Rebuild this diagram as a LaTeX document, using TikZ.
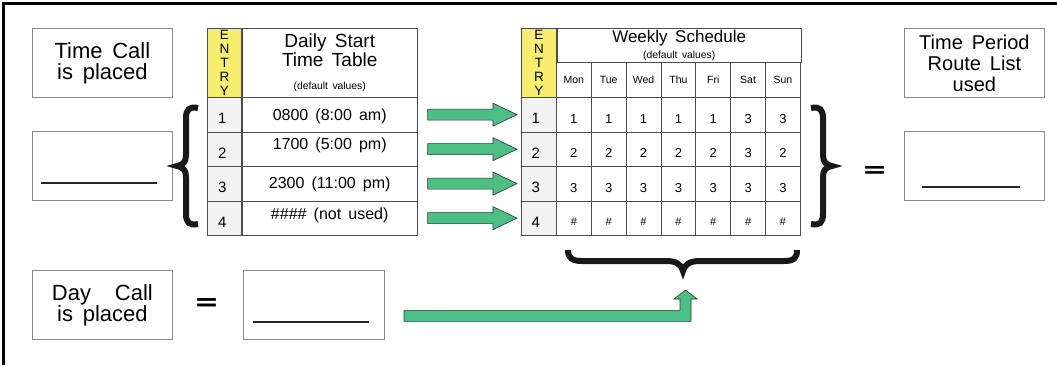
\documentclass[tikz,border=0pt]{standalone}
\usepackage{fontspec}
\usepackage{graphicx}
\setmainfont{Liberation Sans}[WordSpace=1.6]
\newfontfamily\eqfont{DejaVu Sans}
\usetikzlibrary{positioning, calc}

\definecolor{entryyellow}{HTML}{F8EE6E}
\definecolor{entrygray}{HTML}{F2F2F2}
\definecolor{flowgreen}{HTML}{4CBF84}
\definecolor{boxgray}{HTML}{8A8A8A}

\tikzset{
  infobox/.style={draw=boxgray, line width=0.8pt, minimum width=140pt, minimum height=69pt, inner sep=0pt, anchor=north west, align=center, font=\fontsize{22}{21}\selectfont},
  cell/.style={draw=black!70, line width=0.8pt, inner sep=0pt, anchor=north west},
  rowcell/.style={cell, minimum height=34.5pt},
  entrycell/.style={rowcell, fill=entrygray},
  headentry/.style={cell, fill=entryyellow, minimum height=69pt, align=center, font=\fontsize{13.5}{14}\selectfont},
  numtext/.style={inner sep=0pt, font=\fontsize{15}{15}\selectfont},
  celltext/.style={inner sep=0pt, font=\fontsize{13}{13}\selectfont},
  timetext/.style={inner sep=0pt, font=\fontsize{16}{16}\selectfont},
  titletext/.style={inner sep=0pt, align=center, font=\fontsize{19}{19}\selectfont},
  smalltext/.style={inner sep=0pt, font=\fontsize{10.3}{10.3}\selectfont},
  daycell/.style={cell, minimum width=34.857pt, minimum height=35pt, font=\fontsize{10.5}{10.5}\selectfont},
  blankline/.style={line width=2pt, black!85},
  curly/.style={line width=6pt, black!90},
  flowarrow/.style={fill=flowgreen, draw=black!80, line width=0.6pt, line join=miter},
  equalsign/.style={inner sep=0pt, font=\eqfont\bfseries}
}

\begin{document}
\begin{tikzpicture}[x=1pt, y=-1pt]
  \useasboundingbox (0,0) rectangle (1057,365);
  \draw[line width=3pt] (3,365) -- (3,3) -- (1057,3);

  % left column
  \node[infobox] (timecall) at (32,28) {Time Call\\is placed};
  \node[infobox] (timeval) at (32,131) {};
  \draw[blankline] ($(timeval.south west)+(9,-18)$) -- ($(timeval.south east)+(-16,-18)$);
  \draw[curly] (198,108) .. controls (189,106) and (186,110) .. (186,118) -- (186,155) .. controls (186,162) and (183,165) .. (177,166) .. controls (183,167) and (186,170) .. (186,177) -- (186,214) .. controls (186,222) and (189,226) .. (198,224);

  % daily start time table
  \node[headentry, minimum width=34pt] (dentry) at (207,28) {E\\N\\T\\R\\Y};
  \node[cell, minimum width=175pt, minimum height=69pt] (dhead) at (dentry.north east) {};
  \node[titletext, below=6pt of dhead.north] (dtitle) {Daily Start\\Time Table};
  \node[smalltext] (ddefault) at ($(dhead.north)+(0,59)$) {(default values)};
  \foreach \i/\t/\dy in {1/0800 (8:00 am)/2, 2/1700 (5:00 pm)/-4, 3/2300 (11:00 pm)/1, 4/\#\#\#\# (not used)/-3} {
    \node[entrycell, minimum width=34pt] (de\i) at (207,{97+34.5*(\i-1)}) {};
    \node[rowcell, minimum width=175pt] (dt\i) at (de\i.north east) {};
    \node[numtext] (den\i) at ($(de\i.center)+(-2,4)$) {\i};
    \node[timetext] (dtt\i) at ($(dt\i.center)+(0,\dy)$) {\t};
  }

  % weekly schedule
  \node[headentry, minimum width=35pt] (wentry) at (521,28) {E\\N\\T\\R\\Y};
  \node[cell, minimum width=244pt, minimum height=34pt] (whead) at (wentry.north east) {};
  \node[titletext, font=\fontsize{17}{17}\selectfont, below=2pt of whead.north] (wtitle) {Weekly Schedule};
  \node[smalltext] (wdefault) at ($(whead.north)+(0,28)$) {(default values)};
  \foreach \d [count=\k] in {Mon,Tue,Wed,Thu,Fri,Sat,Sun}
    \node[daycell] (day\k) at ({556+34.857*(\k-1)},62) {\d};
  \foreach \i in {1,...,4} {
    \node[entrycell, minimum width=35pt] (we\i) at (521,{97+34.5*(\i-1)}) {};
    \node[numtext] (wen\i) at ($(we\i.center)+(-3,4)$) {\i};
  }
  \foreach \v [count=\n from 0] in {1,1,1,1,1,3,3, 2,2,2,2,2,3,2, 3,3,3,3,3,3,3, \#,\#,\#,\#,\#,\#,\#} {
    \pgfmathtruncatemacro\r{int(\n/7)+1}
    \pgfmathtruncatemacro\c{mod(\n,7)+1}
    \pgfmathtruncatemacro\fs{\r==4 ? 11 : 13}
    \node[rowcell, minimum width=34.857pt] (w\r-\c) at ({556+34.857*(\c-1)},{97+34.5*(\r-1)}) {};
    \node[celltext, font=\fontsize{\fs}{\fs}\selectfont] (wv\r-\c) at ($(w\r-\c.center)+(0,4)$) {\v};
  }

  % arrows from daily table to weekly schedule
  \foreach \i in {1,...,4}
    \path[flowarrow] ($(dt\i.east)+(10,-5.5)$) -- ($(we\i.west)+(-28,-5.5)$) -- ($(we\i.west)+(-28,-11.5)$) -- ($(we\i.west)+(-4,0)$) -- ($(we\i.west)+(-28,11.5)$) -- ($(we\i.west)+(-28,5.5)$) -- ($(dt\i.east)+(10,5.5)$) -- cycle;

  % right column
  \draw[curly] (811,108) .. controls (820,106) and (823,110) .. (823,118) -- (823,155) .. controls (823,162) and (826,165) .. (832,166) .. controls (826,167) and (823,170) .. (823,177) -- (823,214) .. controls (823,222) and (820,226) .. (811,224);
  \node[equalsign] (routeeq) at (874.5,171.5) {\resizebox{25pt}{11pt}{=}};
  \node[infobox, font=\fontsize{20}{21}\selectfont] (routelist) at (904,28) {Time Period\\Route List\\used};
  \node[infobox] (routeval) at (904,131) {};
  \draw[blankline] ($(routeval.south west)+(18,-14)$) -- ($(routeval.south east)+(-25,-14)$);

  % day of the call
  \draw[curly] (568,250) .. controls (568,258) and (572,261) .. (582,261) -- (666,261) .. controls (676,261) and (681,264) .. (683,271) .. controls (685,264) and (690,261) .. (700,261) -- (784,261) .. controls (794,261) and (797,258) .. (797,250);
  \coordinate (wbrace) at (683,272);
  \node[infobox] (daycall) at (32,270) {Day\hspace{24pt}Call\\is placed};
  \node[equalsign, right=21pt of daycall] (dayeq) {\resizebox{25pt}{12pt}{=}};
  \node[infobox, minimum width=141pt, right=24pt of dayeq] (dayval) {};
  \draw[blankline] ($(dayval.south west)+(10,-18)$) -- ($(dayval.south east)+(-16,-18)$);
  \coordinate (lstart) at ($(dayval.east)+(19,11)$);
  \coordinate (ltip) at ($(wbrace)+(2.5,18)$);
  \path[flowarrow] ($(lstart)+(0,-5.5)$) -- ($(ltip |- lstart)+(-5.5,-5.5)$) -- ($(ltip)+(-5.5,9)$) -- ($(ltip)+(-11.5,9)$) -- (ltip) -- ($(ltip)+(11.5,9)$) -- ($(ltip)+(5.5,9)$) -- ($(ltip |- lstart)+(5.5,5.5)$) -- ($(lstart)+(0,5.5)$) -- cycle;
\end{tikzpicture}
\end{document}
